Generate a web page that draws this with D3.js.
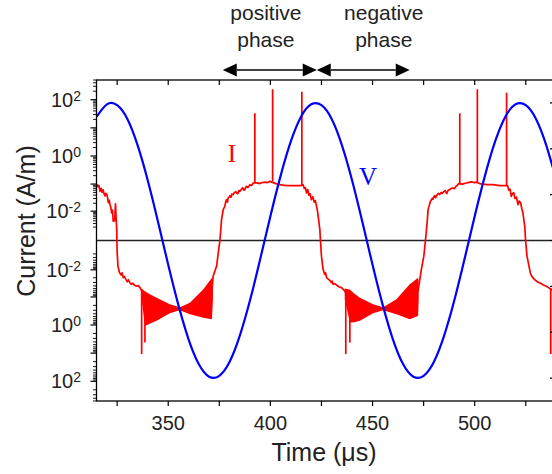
<!DOCTYPE html>
<html>
<head>
<meta charset="utf-8">
<script src="https://cdn.jsdelivr.net/npm/d3@7"></script>
<style>
  body { margin: 0; background: #fff; }
  svg { display: block; }
</style>
</head>
<body>
<div id="chart"></div>
<script>
// ---- data ----
// applied voltage (right axis, arbitrary units, sampled every 5 us)
const vTime = [315,320,325,330,335,340,345,350,355,360,365,370,375,380,385,390,395,400,405,410,
  415,420,425,430,435,440,445,450,455,460,465,470,475,480,485,490,495,500,505,510,
  515,520,525,530,535,540];
const vValue = [2.70,2.97,2.95,2.65,2.08,1.31,0.41,-0.53,-1.41,-2.16,-2.70,-2.97,-2.95,-2.65,-2.08,-1.31,-0.41,0.53,1.41,2.16,
  2.70,2.97,2.95,2.65,2.08,1.31,0.41,-0.53,-1.41,-2.16,-2.70,-2.97,-2.95,-2.65,-2.08,-1.31,-0.41,0.53,1.41,2.16,
  2.70,2.97,2.95,2.65,2.08,1.31];

// discharge current trace, [time us, current A/m]
const iTrace = [
  [315.0,0.10],[315.6,0.08],[316.1,0.09],[316.6,0.055],[317.2,0.07],[317.6,0.05],[318.1,0.062],[318.6,0.045],
  [319.1,0.037],[319.5,0.046],[320.0,0.042],[320.4,0.03],[320.7,0.021],[321.1,0.026],[321.5,0.018],[321.9,0.014],
  [322.3,0.0086],[322.7,0.011],[323.1,0.0038],[323.8,0.004],[324.2,0.019],[324.5,0.005],[324.8,0.0015],[325.0,-0.0015],
  [325.4,-0.0071],[326.2,-0.0129],[327.0,-0.016],[327.4,-0.013],[328.0,-0.0199],[328.6,-0.018],[329.3,-0.023],[330.0,-0.028],
  [330.5,-0.024],[331.3,-0.031],[332.0,-0.035],[332.7,-0.032],[333.5,-0.038],[334.5,-0.041],[335.3,-0.039],[336.2,-0.046],
  [337.0,-0.06],[340.0,-0.15],[344.3,-0.20],[350.8,-0.26],[355.7,-0.27],[360.6,-0.25],[367.1,-0.18],[371.4,-0.06],
  [372.0,-0.0174],[373.7,-0.0071],[374.5,-0.0017],[375.3,0],[376.1,0.0045],[376.9,0.0115],[377.7,0.0154],[378.2,0.024],
  [378.6,0.027],[379.0,0.022],[379.3,0.031],[379.8,0.034],[380.2,0.038],[380.7,0.033],[381.2,0.044],[381.8,0.042],
  [382.4,0.05],[383.1,0.053],[383.6,0.047],[384.1,0.045],[384.6,0.058],[385.1,0.055],[385.8,0.065],[386.5,0.074],
  [387.0,0.06],[387.5,0.063],[388.0,0.078],[388.3,0.082],[389.0,0.075],[390.0,0.095],[390.8,0.088],[391.6,0.109],
  [393.5,0.11],[394.8,0.104],[396.0,0.114],[397.3,0.117],[398.5,0.112],[399.7,0.125],[402.7,0.104],[404.6,0.095],
  [406.0,0.092],[408.1,0.088],[411.1,0.088],[414.9,0.088],
  [416.0,0.095],[416.6,0.07],[417.1,0.075],[417.7,0.048],[418.3,0.063],[418.8,0.04],[419.4,0.045],[420.1,0.027],
  [420.8,0.035],[421.4,0.022],[422.0,0.025],[422.6,0.0154],[423.0,0.011],[423.4,0.0062],[424.2,0.0015],[424.5,0],
  [425.0,-0.0026],[425.8,-0.0096],[426.6,-0.015],[427.0,-0.013],[427.5,-0.0199],[428.2,-0.022],[429.1,-0.025],[429.8,-0.03],
  [430.2,-0.027],[430.7,-0.035],[431.5,-0.033],[432.5,-0.038],[433.5,-0.043],[434.8,-0.046],
  [436.4,-0.06],[439.0,-0.15],[443.8,-0.20],[450.3,-0.26],[455.2,-0.27],[461.7,-0.25],[468.2,-0.18],[472.3,-0.06],
  [473.9,-0.0096],[475.1,-0.0026],[475.9,0],[476.7,0.0032],[477.2,0.0115],[478.0,0.0194],[478.4,0.024],[478.8,0.027],
  [479.3,0.031],[479.6,0.028],[480.0,0.035],[480.5,0.038],[480.9,0.032],[481.5,0.04],[482.2,0.046],[482.9,0.042],
  [483.6,0.05],[484.2,0.047],[484.8,0.053],[485.5,0.058],[486.3,0.045],[487.0,0.06],[487.8,0.063],[488.5,0.07],
  [489.4,0.072],[490.0,0.068],[490.7,0.081],[491.4,0.09],[492.2,0.104],[494.0,0.10],[495.9,0.109],[497.2,0.115],
  [498.5,0.12],[499.8,0.113],[501.0,0.117],[502.4,0.104],[504.0,0.10],[505.9,0.095],[508.9,0.095],[512.2,0.088],
  [515.4,0.088],[516.1,0.088],[516.7,0.06],[517.3,0.065],[517.9,0.036],[518.5,0.045],[519.1,0.049],[519.7,0.03],
  [520.4,0.034],[521.2,0.0178],[521.8,0.024],[522.5,0.021],[523.0,0.013],[523.6,0.0086],[524.5,0.0022],[524.9,0],
  [525.6,-0.0026],[527.2,-0.0129],[527.8,-0.017],[528.4,-0.0194],[529.2,-0.023],[530.2,-0.0265],[531.2,-0.03],[532.3,-0.032],
  [533.6,-0.037],[535.1,-0.041],[536.3,-0.047],[537.5,-0.054],[539.3,-0.06]
];

// envelope of the oscillating (negative) phase, null = gap between cycles
const bandTime   = [337.0,338.6,341.0,344.3,350.8,355.7,360.6,367.1,371.4,371.9, null, 436.4,438.9,441.0,443.8,450.3,455.2,461.7,468.2,472.3,472.6];
const bandTop    = [-0.05,-0.062,-0.08,-0.107,-0.184,-0.235,-0.16,-0.054,-0.0199,-0.03, null, -0.05,-0.054,-0.075,-0.107,-0.184,-0.235,-0.122,-0.035,-0.0199,-0.03];
const bandBottom = [-0.12,-1.08,-0.9,-0.7,-0.38,-0.30,-0.415,-0.55,-0.63,-0.12, null, -0.12,-0.82,-0.8,-0.7,-0.38,-0.30,-0.415,-0.63,-0.48,-0.12];

// current pulses
const spikeTime = [337.0,338.6,392.4,401.1,415.4,436.9,438.9,492.7,501.3,515.6,537.2];
const spikeBase = [-0.06,-0.1,0.11,0.125,0.09,-0.06,-0.1,0.105,0.118,0.09,-0.05];
const spikeTip  = [-10.8,-4.2,33,234,190,-10.8,-4.2,33,234,178,-10.8];

const xTicks = [350,400,450,500];
const xMinorTicks = [325,375,425,475,525];
const yLabelExp = [2,0,-2];
const vTicks = [-3,-2,-1,0,1,2,3];
const phaseBounds = [376.7,422.7,468.2];
const phaseLabelTime = [397.8,455.5];
const phaseLabels = [["positive","phase"],["negative","phase"]];

// ---- layout ----
const width = 552, height = 474;
const plotLeft = 96.5, plotRight = 555, plotTop = 80, plotBottom = 401;
const font = "'Liberation Sans', Arial, Helvetica, sans-serif";
const serif = "'Liberation Serif', 'Times New Roman', serif";

const svg = d3.select("#chart").append("svg")
  .attr("width", width)
  .attr("height", height);

const x = d3.scaleLinear().domain([314.9, 539.3]).range([plotLeft, plotRight]);
const y = d3.scaleSymlog().constant(1e-3).domain([-501, 501]).range([plotBottom, plotTop]);
const yV = d3.scaleLinear().domain([-3.5, 3.5]).range([plotBottom, plotTop]);

svg.append("clipPath").attr("id", "plotClip")
  .append("rect")
    .attr("x", plotLeft).attr("y", plotTop)
    .attr("width", plotRight - plotLeft).attr("height", plotBottom - plotTop);

const plot = svg.append("g").attr("clip-path", "url(#plotClip)");

// zero line
plot.append("line")
  .attr("x1", plotLeft).attr("x2", plotRight)
  .attr("y1", y(0)).attr("y2", y(0))
  .attr("stroke", "#222")
  .attr("stroke-width", 1.3);

// band
const bandData = bandTime.map((t, i) => ({t: t, top: bandTop[i], bot: bandBottom[i]}));
plot.append("path")
  .datum(bandData)
  .attr("d", d3.area()
    .defined(d => d.t != null)
    .x(d => x(d.t))
    .y0(d => y(d.top))
    .y1(d => y(d.bot)))
  .attr("fill", "#ff0000");

// current trace
plot.append("path")
  .datum(iTrace)
  .attr("d", d3.line().x(d => x(d[0])).y(d => y(d[1])))
  .attr("fill", "none")
  .attr("stroke", "#ff0000")
  .attr("stroke-width", 1.7)
  .attr("stroke-linejoin", "round");

plot.selectAll(".spike")
  .data(spikeTime)
  .join("line")
    .attr("class", "spike")
    .attr("x1", d => x(d)).attr("x2", d => x(d))
    .attr("y1", (d, i) => y(spikeBase[i]))
    .attr("y2", (d, i) => y(spikeTip[i]))
    .attr("stroke", "#ff0000")
    .attr("stroke-width", 1.7);

// voltage
const vData = vTime.map((t, i) => [t, vValue[i]]);
plot.append("path")
  .datum(vData)
  .attr("d", d3.line().curve(d3.curveNatural).x(d => x(d[0])).y(d => yV(d[1])))
  .attr("fill", "none")
  .attr("stroke", "#0000ff")
  .attr("stroke-width", 2.2);

// frame
svg.append("rect")
  .attr("x", plotLeft).attr("y", plotTop)
  .attr("width", plotRight - plotLeft).attr("height", plotBottom - plotTop)
  .attr("fill", "none")
  .attr("stroke", "#000")
  .attr("stroke-width", 1.3);

// x ticks (bottom outward, top inward)
const allX = xTicks.concat(xMinorTicks);
svg.selectAll(".xtb").data(allX).join("line")
  .attr("x1", d => x(d)).attr("x2", d => x(d))
  .attr("y1", plotBottom).attr("y2", plotBottom + 5)
  .attr("stroke", "#000").attr("stroke-width", 1.2);
svg.selectAll(".xtt").data(allX).join("line")
  .attr("x1", d => x(d)).attr("x2", d => x(d))
  .attr("y1", plotTop).attr("y2", plotTop + 5)
  .attr("stroke", "#000").attr("stroke-width", 1.2);

svg.selectAll(".xlab").data(xTicks).join("text")
  .attr("x", d => x(d))
  .attr("y", 430)
  .attr("text-anchor", "middle")
  .attr("font-family", font)
  .attr("font-size", 20)
  .attr("fill", "#222")
  .text(d => d);

// y ticks (symlog, left outward)
const yMajor = [];
const yMinor = [];
for (let e = -3; e <= 2; e++) {
  for (let k = 1; k <= 9; k++) {
    const v = k * Math.pow(10, e);
    if (v > 501) continue;
    if (k === 1) { if (e >= -2) { yMajor.push(v); yMajor.push(-v); } }
    else { yMinor.push(v); yMinor.push(-v); }
  }
}
svg.selectAll(".ymaj").data(yMajor).join("line")
  .attr("x1", plotLeft - 6).attr("x2", plotLeft)
  .attr("y1", d => y(d)).attr("y2", d => y(d))
  .attr("stroke", "#000").attr("stroke-width", 1.2);
svg.selectAll(".ymin").data(yMinor).join("line")
  .attr("x1", plotLeft - 3.5).attr("x2", plotLeft)
  .attr("y1", d => y(d)).attr("y2", d => y(d))
  .attr("stroke", "#000").attr("stroke-width", 0.9);

const yLabData = [];
yLabelExp.forEach(e => { yLabData.push({v: Math.pow(10, e), e: e}); yLabData.push({v: -Math.pow(10, e), e: e}); });
const yLab = svg.selectAll(".ylab").data(yLabData).join("text")
  .attr("x", 81)
  .attr("y", d => y(d.v))
  .attr("dy", "0.36em")
  .attr("text-anchor", "end")
  .attr("font-family", font)
  .attr("font-size", 20)
  .attr("fill", "#222");
yLab.append("tspan").text("10");
yLab.append("tspan")
  .attr("dy", "-0.45em")
  .attr("font-size", 14)
  .text(d => d.e);

// right axis ticks for voltage (inward, mostly off-canvas)
svg.selectAll(".vt").data(vTicks).join("line")
  .attr("x1", plotRight - 5).attr("x2", plotRight)
  .attr("y1", d => yV(d)).attr("y2", d => yV(d))
  .attr("stroke", "#000").attr("stroke-width", 1.2);

// axis titles
svg.append("text")
  .attr("x", 324).attr("y", 461)
  .attr("text-anchor", "middle")
  .attr("font-family", font)
  .attr("font-size", 25)
  .attr("fill", "#222")
  .text("Time (\u03bcs)");

svg.append("text")
  .attr("transform", "translate(35,221) rotate(-90)")
  .attr("text-anchor", "middle")
  .attr("font-family", font)
  .attr("font-size", 25)
  .attr("fill", "#222")
  .text("Current (A/m)");

// series labels
svg.append("text")
  .attr("x", x(381.2)).attr("y", 162)
  .attr("text-anchor", "middle")
  .attr("font-family", serif)
  .attr("font-size", 25)
  .attr("fill", "#ff0000")
  .text("I");
svg.append("text")
  .attr("x", x(447.8)).attr("y", 185)
  .attr("text-anchor", "middle")
  .attr("font-family", serif)
  .attr("font-size", 25)
  .attr("fill", "#0000ff")
  .text("V");

// phase arrows
const arrowY = 70;
const head = 14, half = 6.5;
function arrow(t0, t1) {
  const x0 = x(t0), x1 = x(t1);
  svg.append("line")
    .attr("x1", x0 + head).attr("x2", x1 - head)
    .attr("y1", arrowY).attr("y2", arrowY)
    .attr("stroke", "#000").attr("stroke-width", 1.5);
  svg.append("path")
    .attr("d", `M${x0},${arrowY}L${x0 + head},${arrowY - half}L${x0 + head},${arrowY + half}Z`)
    .attr("fill", "#000");
  svg.append("path")
    .attr("d", `M${x1},${arrowY}L${x1 - head},${arrowY - half}L${x1 - head},${arrowY + half}Z`)
    .attr("fill", "#000");
}
arrow(phaseBounds[0], phaseBounds[1]);
arrow(phaseBounds[1], phaseBounds[2]);

phaseLabels.forEach((lines, i) => {
  lines.forEach((s, j) => {
    svg.append("text")
      .attr("x", x(phaseLabelTime[i]))
      .attr("y", 20 + j * 27)
      .attr("text-anchor", "middle")
      .attr("font-family", font)
      .attr("font-size", 21)
      .attr("fill", "#222")
      .text(s);
  });
});
</script>
</body>
</html>
